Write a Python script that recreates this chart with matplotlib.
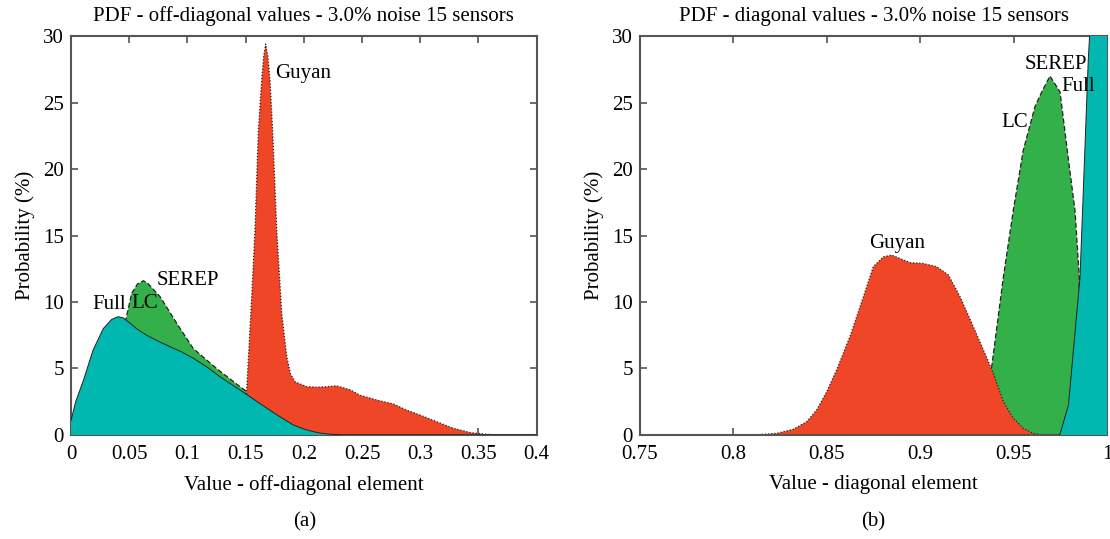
import matplotlib
matplotlib.use("Agg")
import matplotlib.pyplot as plt

plt.rcParams['font.family'] = ['Liberation Serif', 'DejaVu Serif']

# ---- Panel (a): off-diagonal values ----
full_a_x = [0.0, 0.004, 0.0106, 0.019, 0.0277, 0.035, 0.0406, 0.045, 0.0507, 0.057, 0.065, 0.075,
            0.085, 0.095, 0.105, 0.117, 0.128, 0.1452, 0.155, 0.162, 0.177, 0.191, 0.2,
            0.208, 0.215, 0.222, 0.235, 0.4]
full_a_y = [1.1, 2.5, 4.1, 6.4, 8.0, 8.7, 8.9, 8.8, 8.4, 7.95, 7.5, 7.05,
            6.64, 6.25, 5.77, 5.1, 4.38, 3.38, 2.8, 2.38, 1.5, 0.75, 0.45,
            0.25, 0.13, 0.06, 0.0, 0.0]

serep_a_x = [0.046, 0.047, 0.0521, 0.057, 0.0621, 0.066, 0.0765, 0.0908, 0.105, 0.125, 0.1452,
             0.152, 0.153]
serep_a_y = [0.0, 8.65, 10.65, 11.35, 11.6, 11.4, 10.4, 8.4, 6.5, 5.0, 3.63,
             3.2, 0.0]

guyan_a_x = [0.1485, 0.1509, 0.1552, 0.158, 0.1609, 0.1638, 0.1655, 0.1672, 0.169, 0.1709, 0.1732,
             0.1767, 0.181, 0.1853, 0.1885, 0.1924, 0.2025, 0.212, 0.22, 0.228, 0.2397, 0.248,
             0.2626, 0.277, 0.288, 0.2998, 0.314, 0.3285, 0.343, 0.357, 0.368, 0.4]
guyan_a_y = [0.0, 3.4, 10.4, 15.4, 22.9, 26.7, 28.5, 29.4, 28.5, 26.7, 22.9,
             15.4, 9.15, 5.9, 4.6, 4.0, 3.63, 3.6, 3.63, 3.7, 3.4, 3.0,
             2.63, 2.33, 1.88, 1.5, 1.0, 0.5, 0.18, 0.05, 0.0, 0.0]

# ---- Panel (b): diagonal values ----
guyan_b_x = [0.75, 0.8106, 0.8231, 0.832, 0.8392, 0.8445, 0.8499, 0.8552, 0.8623, 0.8695, 0.8748,
             0.8802, 0.8846, 0.889, 0.8944, 0.9016, 0.9087, 0.915, 0.9212, 0.9283, 0.9337,
             0.939, 0.9444, 0.9497, 0.955, 0.9604, 0.9657, 1.0]
guyan_b_y = [0.0, 0.0, 0.12, 0.43, 1.0, 1.88, 3.26, 4.9, 7.4, 10.4, 12.66,
             13.4, 13.53, 13.28, 12.96, 12.9, 12.66, 12.03, 10.4, 8.15, 6.4,
             4.64, 2.5, 1.25, 0.5, 0.12, 0.0, 0.0]

serep_b_x = [0.9336, 0.9381, 0.9444, 0.9497, 0.955, 0.9613, 0.9649, 0.9693, 0.9747, 0.9792,
             0.9827, 0.985, 0.984, 0.982]
serep_b_y = [0.0, 5.1, 11.9, 16.9, 21.4, 24.7, 25.8, 27.0, 25.8, 20.7,
             16.9, 11.9, 5.0, 0.0]

full_b_x = [0.974, 0.9747, 0.9792, 0.9854, 0.9898, 0.9905, 0.993, 1.0]
full_b_y = [0.0, 0.07, 2.25, 11.9, 28.2, 30.0, 36.0, 40.0]

TEAL = '#00B8B0'
GREEN = '#34B04A'
RED = '#EE4626'
FRAME = '#555555'
FS = 15

fig = plt.figure(figsize=(11.10, 5.39), dpi=100)
ax1 = fig.add_axes([0.064, 0.193, 0.4195, 0.740])
ax2 = fig.add_axes([0.5766, 0.193, 0.421, 0.740])

def style(ax, xlim, xticks, xticklabels, xlabel, title):
    ax.set_xlim(*xlim)
    ax.set_ylim(0, 30)
    ax.set_xticks(xticks)
    ax.set_xticklabels(xticklabels)
    ax.set_yticks([0, 5, 10, 15, 20, 25, 30])
    ax.tick_params(direction='in', top=True, right=True, length=5, width=1.2,
                   color=FRAME, labelsize=FS)
    ax.tick_params(axis='x', pad=7)
    ax.tick_params(axis='y', pad=5)
    for s in ax.spines.values():
        s.set_color(FRAME)
        s.set_linewidth(1.5)
    ax.set_xlabel(xlabel, fontsize=FS, labelpad=8)
    ax.set_ylabel('Probability (%)', fontsize=FS, labelpad=6)
    ax.set_title(title, fontsize=FS, pad=11)

def draw(ax, fx, fy, sx, sy, gx, gy):
    ax.fill_between(sx, sy, 0, facecolor=GREEN, edgecolor='none', zorder=1)
    ax.plot(sx, sy, color='#222222', lw=0.9, ls=(0, (4, 2)), zorder=1.1)
    ax.fill_between(gx, gy, 0, facecolor=RED, edgecolor='none', zorder=2)
    ax.plot(gx, gy, color='#222222', lw=0.9, ls=(0, (1, 1.5)), zorder=2.1)
    ax.fill_between(fx, fy, 0, facecolor=TEAL, edgecolor='none', zorder=3)
    ax.plot(fx, fy, color='#222222', lw=0.7, zorder=3.1)

# panel a
draw(ax1, full_a_x, full_a_y, serep_a_x, serep_a_y, guyan_a_x, guyan_a_y)
style(ax1, (0, 0.4), [0, 0.05, 0.1, 0.15, 0.2, 0.25, 0.3, 0.35, 0.4],
      ['0', '0.05', '0.1', '0.15', '0.2', '0.25', '0.3', '0.35', '0.4'],
      'Value - off-diagonal element', 'PDF - off-diagonal values - 3.0% noise 15 sensors')
ax1.text(0.1752, 27.2, 'Guyan', fontsize=FS, ha='left', va='center', zorder=5)
ax1.text(0.0736, 11.65, 'SEREP', fontsize=FS, ha='left', va='center', zorder=5)
ax1.text(0.0183, 9.85, 'Full', fontsize=FS, ha='left', va='center', zorder=5)
ax1.text(0.052, 9.9, 'LC', fontsize=FS, ha='left', va='center', zorder=5)

# panel b
draw(ax2, full_b_x, full_b_y, serep_b_x, serep_b_y, guyan_b_x, guyan_b_y)
style(ax2, (0.75, 1.0), [0.75, 0.8, 0.85, 0.9, 0.95, 1.0],
      ['0.75', '0.8', '0.85', '0.9', '0.95', '1'],
      'Value - diagonal element', 'PDF - diagonal values - 3.0% noise 15 sensors')
ax2.text(0.8875, 14.4, 'Guyan', fontsize=FS, ha='center', va='center', zorder=5)
ax2.text(0.956, 27.9, 'SEREP', fontsize=FS, ha='left', va='center', zorder=5)
ax2.text(0.9756, 26.2, 'Full', fontsize=FS, ha='left', va='center', zorder=5)
ax2.text(0.9431, 23.5, 'LC', fontsize=FS, ha='left', va='center', zorder=5)

fig.text(305 / 1110, 1 - 522 / 539, '(a)', fontsize=FS, ha='center', va='center')
fig.text(873 / 1110, 1 - 522 / 539, '(b)', fontsize=FS, ha='center', va='center')

fig.savefig('out.png', dpi=100)
